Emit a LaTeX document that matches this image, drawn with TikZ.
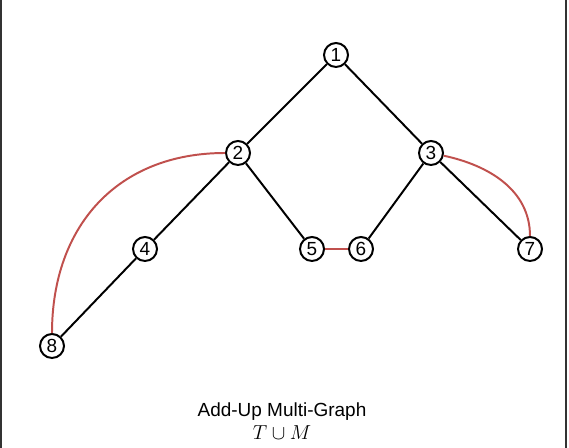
\documentclass[tikz,border=0pt]{standalone}
\usepackage{fontspec}
\setmainfont{Liberation Sans}
\usetikzlibrary{positioning}
\definecolor{mred}{HTML}{C0504D}

\begin{document}
\begin{tikzpicture}[
    vert/.style={circle, draw=black, line width=1.4pt, fill=white, minimum size=0.6cm, inner sep=0pt, font=\fontsize{13.5}{15}\selectfont},
    tedge/.style={draw=black, line width=1.4pt},
    medge/.style={draw=mred, line width=1.4pt},
    frame/.style={draw=black!80, line width=1pt},
]
\useasboundingbox (0,0) rectangle (14.225, 11.2);

% Frame
\draw[frame] (0.03, 0) -- (0.03, 11.2);
\draw[frame] (14.15, 0) -- (14.15, 11.2);

% Vertices
\node[vert] (n1) at (8.4, 9.825) {1};
\node[vert] (n2) at (5.95, 7.375) {2};
\node[vert] (n3) at (10.775, 7.375) {3};
\node[vert] (n4) at (3.625, 4.975) {4};
\node[vert] (n5) at (7.8, 4.975) {5};
\node[vert] (n6) at (9.025, 4.975) {6};
\node[vert] (n7) at (13.25, 4.975) {7};
\node[vert] (n8) at (1.3, 2.55) {8};

% Tree edges
\foreach \i/\j in {n1/n2, n1/n3, n2/n4, n2/n5, n3/n6, n3/n7, n4/n8} {
    \draw[tedge] (\i) -- (\j);
}

% Matching edges
\draw[medge] (n5) -- (n6);
\draw[medge] (n2) to[out=180, in=90, looseness=1.1] (n8);
\draw[medge] (n3) to[out=-12, in=90] (n7);

% Caption
\node[font=\fontsize{13.5}{16}\selectfont] (cap) at (7.05, 0.9) {Add-Up Multi-Graph};
\node[below=-0.12cm of cap, font=\fontsize{14}{16}\selectfont] (capm) {$T \cup M$};

\end{tikzpicture}
\end{document}
